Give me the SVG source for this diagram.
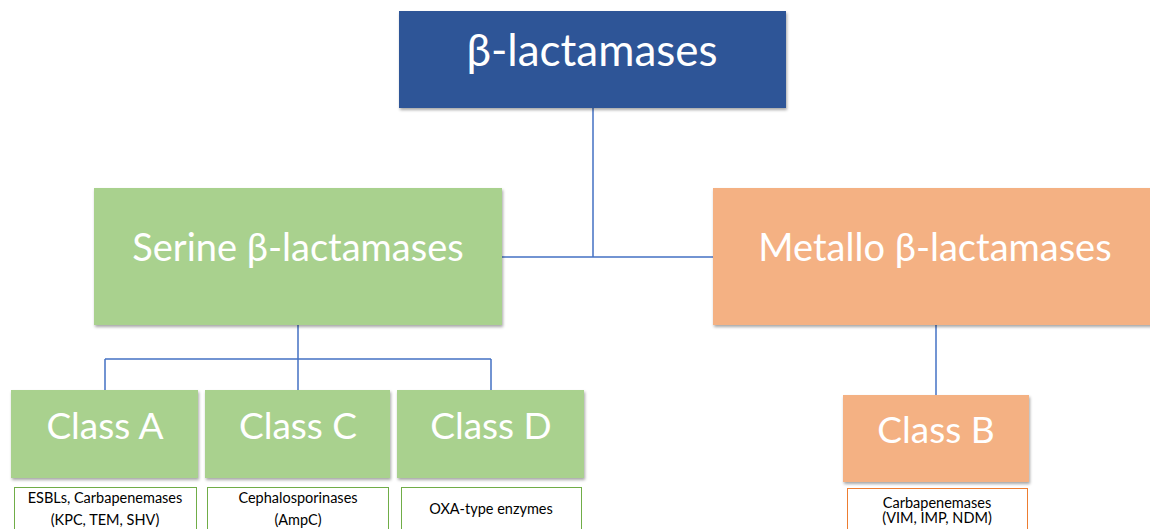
<svg xmlns="http://www.w3.org/2000/svg" width="1150" height="529" viewBox="0 0 1150 529">
<style>
.t{font-family:Lato,"Open Sans",sans-serif;fill:#fff;text-anchor:middle}
.s{font-family:Lato,"Open Sans",sans-serif;fill:#000;text-anchor:middle;font-size:14.5px}
.c{stroke:#4472C4;stroke-width:1.5;fill:none}
.g{fill:#A9D18E}
.o{fill:#F4B183}
.gd{fill:#fff;stroke:#70AD47;stroke-width:1}
.od{fill:#fff;stroke:#ED7D31;stroke-width:1}
</style>
<defs>
<filter id="sh" x="-5%" y="-5%" width="110%" height="115%">
<feDropShadow dx="1" dy="2" stdDeviation="1.5" flood-color="#000" flood-opacity="0.35"/>
</filter>
</defs>
<rect width="1150" height="529" fill="#fff"/>
<g id="connectors">
<path class="c" d="M593 108V257M502 257H713"/>
<path class="c" d="M298 325V359M105 359H491M105 359V390M298 359V390M491 359V390"/>
<path class="c" d="M936 325V395"/>
</g>
<g id="root"><rect x="399" y="11" width="387" height="97" fill="#2F5597" filter="url(#sh)"/><text class="t" x="592" y="66" font-size="44">β-lactamases</text></g>
<g id="serine"><rect class="g" x="94" y="188" width="408" height="137" filter="url(#sh)"/><text class="t" x="298" y="261" font-size="38">Serine β-lactamases</text></g>
<g id="metallo"><rect class="o" x="713" y="188" width="445" height="137" filter="url(#sh)"/><text class="t" x="935" y="261" font-size="38">Metallo β-lactamases</text></g>
<g id="classA"><rect class="g" x="11" y="390" width="187" height="88" filter="url(#sh)"/><text class="t" x="105" y="439" font-size="37">Class A</text></g>
<g id="classC"><rect class="g" x="205" y="390" width="185" height="88" filter="url(#sh)"/><text class="t" x="298" y="439" font-size="37">Class C</text></g>
<g id="classD"><rect class="g" x="397" y="390" width="187" height="88" filter="url(#sh)"/><text class="t" x="491" y="439" font-size="37">Class D</text></g>
<g id="classB"><rect class="o" x="843" y="395" width="186" height="87" filter="url(#sh)"/><text class="t" x="936" y="443" font-size="37">Class B</text></g>
<g id="descA"><rect class="gd" x="14.5" y="487.5" width="182" height="50"/><text class="s" x="105" y="503">ESBLs, Carbapenemases</text><text class="s" x="105" y="525">(KPC, TEM, SHV)</text></g>
<g id="descC"><rect class="gd" x="207.5" y="487.5" width="181" height="50"/><text class="s" x="298" y="503">Cephalosporinases</text><text class="s" x="298" y="525">(AmpC)</text></g>
<g id="descD"><rect class="gd" x="401.5" y="487.5" width="180" height="50"/><text class="s" x="491" y="514">OXA-type enzymes</text></g>
<g id="descB"><rect class="od" x="847.5" y="488.5" width="180" height="50"/><text class="s" x="937" y="508">Carbapenemases</text><text class="s" x="937" y="523">(VIM, IMP, NDM)</text></g>
</svg>
